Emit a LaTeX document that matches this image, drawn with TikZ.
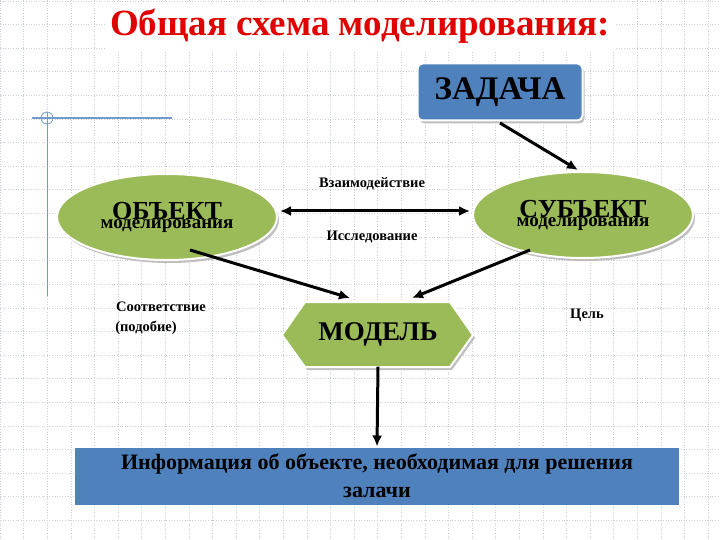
\documentclass[tikz,border=0pt]{standalone}
\usepackage{fontspec}
\setmainfont{Liberation Serif}
\usetikzlibrary{arrows.meta,shapes.geometric}
\definecolor{grn}{HTML}{9BBB59}
\definecolor{blu}{HTML}{4F81BD}
\definecolor{gridc}{HTML}{C8D0DC}
\definecolor{ttl}{HTML}{E00000}
\begin{document}
\begin{tikzpicture}[x=1pt,y=-1pt,
  arr/.style={line width=3pt,-{Latex[length=11pt,width=10pt]}},
  ell/.style={ellipse,fill=grn,draw=white,line width=2pt,minimum width=220pt,minimum height=86pt,align=center,font=\bfseries,inner sep=0pt,
    preaction={fill=black!25,transform canvas={xshift=2pt,yshift=-3pt}}},
  lbl/.style={font=\bfseries\fontsize{14.5}{16}\selectfont}]
\useasboundingbox (0,0) rectangle (720,540);
\fill[white] (0,0) rectangle (720,540);
\foreach \i in {0,...,30} {
  \draw[gridc,dotted,line width=0.6pt] (0,\i*23.6+1) -- (720,\i*23.6+1);
  \draw[gridc,dotted,line width=0.6pt] (\i*23.6,0) -- (\i*23.6,540);
}
\fill[white] (105,3) rectangle (615,50);
\node[text=ttl,font=\bfseries\fontsize{37}{40}\selectfont] (title) at (360,26) {Общая схема моделирования:};
\draw[blu!80,line width=1.3pt] (32,118) -- (172,118);
\draw[blu!80,line width=1pt] (47,112) -- (47,296);
\draw[blu!80,line width=0.8pt] (47,118) circle (6);
\node[fill=blu,rounded corners=5pt,draw=white,line width=2pt,minimum width=165pt,minimum height=57pt,font=\bfseries\fontsize{33}{36}\selectfont,
  preaction={fill=black!25,rounded corners=5pt,transform canvas={xshift=2pt,yshift=-3pt}}] (task) at (500,92) {ЗАДАЧА};
\node[ell] (obj) at (167,217) {\fontsize{26}{28}\selectfont ОБЪЕКТ\\[-3pt]\fontsize{19}{22}\selectfont моделирования};
\node[ell] (subj) at (583,215) {\fontsize{26}{28}\selectfont СУБЪЕКТ\\[-3pt]\fontsize{19}{22}\selectfont моделирования};
\path[fill=black!25] (284,338)--(307,305)--(452,305)--(475,338)--(452,370)--(307,370)--cycle;
\path[fill=grn,draw=white,line width=2pt] (282,335)--(305,302)--(450,302)--(473,335)--(450,367)--(305,367)--cycle;
\node[font=\bfseries\fontsize{27}{30}\selectfont,minimum width=150pt,minimum height=65pt] (model) at (378,334) {МОДЕЛЬ};
\node[fill=blu,draw=white,line width=1pt,minimum width=605pt,minimum height=58pt,align=center,font=\bfseries\fontsize{22}{28}\selectfont] (info) at (377,476) {Информация об объекте, необходимая для решения\\залачи};
\coordinate (oe) at (280,211);
\coordinate (se) at (470,211);
\draw[arr,{Latex[length=11pt,width=10pt]}-{Latex[length=11pt,width=10pt]}] (oe) -- (se);
\node[lbl] (l1) at (372,184) {Взаимодействие};
\node[lbl] (l2) at (372,237) {Исследование};
\coordinate (t1) at (500,123);
\coordinate (s1) at (578,170);
\draw[arr] (t1) -- (s1);
\coordinate (o1) at (190,250);
\coordinate (m1) at (350,298);
\draw[arr] (o1) -- (m1);
\coordinate (s2) at (530,250);
\coordinate (m2) at (412,298);
\draw[arr] (s2) -- (m2);
\draw[arr] (model.south) -- (info.north);
\node[lbl] (c1) at (161,307) {Соответствие};
\node[lbl] (c2) at (146,328) {(подобие)};
\node[lbl] (c3) at (587,315) {Цель};
\end{tikzpicture}
\end{document}
